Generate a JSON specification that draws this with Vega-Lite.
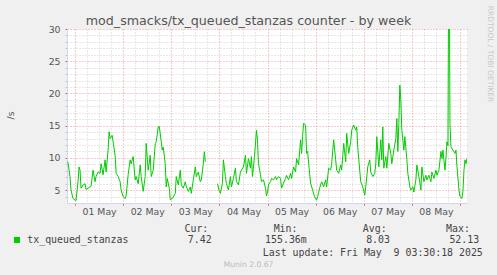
{
"$schema": "https://vega.github.io/schema/vega-lite/v6.json",
"width": 400,
"height": 174,
"autosize": "none",
"padding": {"left": 67, "top": 29, "right": 30, "bottom": 72},
"background": "#F0F0F0",
"config": {
  "view": {"fill": "#FFFFFF", "stroke": null},
  "axis": {"labelFont": "DejaVu Sans", "labelFontSize": 9.33, "labelColor": "#555555", "titleFont": "DejaVu Sans", "titleFontWeight": "normal", "gridDash": [1, 2], "domainColor": "#CFD6F8", "gridWidth": 1}
},
"data": {"values": [
{"t":"2025-04-30T20:00","v":9.4},{"t":"2025-04-30T20:30","v":9.3},{"t":"2025-04-30T21:30","v":7.1},{"t":"2025-04-30T22:00","v":5.0},{"t":"2025-04-30T23:00","v":3.7},
{"t":"2025-05-01T00:00","v":3.45},{"t":"2025-05-01T00:30","v":3.4},{"t":"2025-05-01T01:30","v":6.3},{"t":"2025-05-01T02:00","v":8.6},{"t":"2025-05-01T02:30","v":8.1},{"t":"2025-05-01T03:00","v":5.3},{"t":"2025-05-01T04:00","v":5.8},{"t":"2025-05-01T05:00","v":6.0},{"t":"2025-05-01T05:30","v":5.1},{"t":"2025-05-01T06:30","v":5.3},{"t":"2025-05-01T07:30","v":5.5},{"t":"2025-05-01T08:00","v":5.6},{"t":"2025-05-01T09:00","v":8.1},{"t":"2025-05-01T10:00","v":6.3},{"t":"2025-05-01T10:30","v":7.1},{"t":"2025-05-01T11:30","v":7.8},{"t":"2025-05-01T12:30","v":7.6},{"t":"2025-05-01T13:00","v":9.1},{"t":"2025-05-01T14:00","v":7.4},{"t":"2025-05-01T15:00","v":9.7},{"t":"2025-05-01T15:30","v":7.8},{"t":"2025-05-01T16:30","v":11.2},{"t":"2025-05-01T17:00","v":14.05},{"t":"2025-05-01T17:30","v":13.0},{"t":"2025-05-01T18:30","v":13.5},{"t":"2025-05-01T19:00","v":12.5},{"t":"2025-05-01T20:00","v":10.4},{"t":"2025-05-01T20:30","v":7.6},{"t":"2025-05-01T21:30","v":7.1},{"t":"2025-05-01T22:30","v":6.3},{"t":"2025-05-01T23:00","v":5.0},
{"t":"2025-05-02T00:00","v":4.0},{"t":"2025-05-02T01:00","v":3.7},{"t":"2025-05-02T01:30","v":4.1},{"t":"2025-05-02T02:30","v":7.4},{"t":"2025-05-02T03:30","v":9.7},{"t":"2025-05-02T04:00","v":9.1},{"t":"2025-05-02T05:00","v":10.2},{"t":"2025-05-02T06:00","v":6.6},{"t":"2025-05-02T06:30","v":7.1},{"t":"2025-05-02T07:30","v":6.0},{"t":"2025-05-02T08:30","v":8.9},{"t":"2025-05-02T09:00","v":7.1},{"t":"2025-05-02T10:00","v":4.8},{"t":"2025-05-02T11:00","v":7.1},{"t":"2025-05-02T11:30","v":12.25},{"t":"2025-05-02T12:30","v":8.1},{"t":"2025-05-02T13:30","v":10.4},{"t":"2025-05-02T14:00","v":7.1},{"t":"2025-05-02T15:00","v":8.1},{"t":"2025-05-02T16:00","v":12.2},{"t":"2025-05-02T16:30","v":12.5},{"t":"2025-05-02T17:30","v":14.8},{"t":"2025-05-02T18:00","v":14.9},{"t":"2025-05-02T18:30","v":13.8},{"t":"2025-05-02T19:30","v":11.2},{"t":"2025-05-02T20:00","v":11.7},{"t":"2025-05-02T21:00","v":9.1},{"t":"2025-05-02T21:30","v":5.5},{"t":"2025-05-02T22:00","v":6.8},{"t":"2025-05-02T23:00","v":5.3},{"t":"2025-05-02T23:30","v":3.5},
{"t":"2025-05-03T00:30","v":3.7},{"t":"2025-05-03T02:00","v":4.5},{"t":"2025-05-03T02:30","v":7.1},{"t":"2025-05-03T03:30","v":5.8},{"t":"2025-05-03T04:30","v":8.1},{"t":"2025-05-03T05:00","v":5.8},{"t":"2025-05-03T06:00","v":5.3},{"t":"2025-05-03T07:00","v":6.3},{"t":"2025-05-03T07:30","v":5.5},{"t":"2025-05-03T08:30","v":4.8},{"t":"2025-05-03T09:30","v":5.5},{"t":"2025-05-03T10:00","v":4.5},{"t":"2025-05-03T11:00","v":6.6},{"t":"2025-05-03T12:00","v":8.6},{"t":"2025-05-03T12:30","v":7.1},{"t":"2025-05-03T13:30","v":7.8},{"t":"2025-05-03T14:30","v":6.3},{"t":"2025-05-03T15:00","v":6.6},{"t":"2025-05-03T16:00","v":9.1},{"t":"2025-05-03T16:30","v":10.95},{"t":"2025-05-03T17:00","v":9.4},{"t":"2025-05-03T17:30","v":null},{"t":"2025-05-03T23:00","v":6.0},
{"t":"2025-05-04T00:00","v":4.8},{"t":"2025-05-04T00:30","v":4.5},{"t":"2025-05-04T01:30","v":6.0},{"t":"2025-05-04T02:00","v":9.7},{"t":"2025-05-04T03:00","v":7.1},{"t":"2025-05-04T03:30","v":6.0},{"t":"2025-05-04T04:30","v":5.0},{"t":"2025-05-04T05:30","v":7.1},{"t":"2025-05-04T06:00","v":5.5},{"t":"2025-05-04T07:00","v":6.8},{"t":"2025-05-04T08:00","v":8.4},{"t":"2025-05-04T08:30","v":6.3},{"t":"2025-05-04T09:30","v":5.8},{"t":"2025-05-04T10:30","v":7.8},{"t":"2025-05-04T11:00","v":8.1},{"t":"2025-05-04T12:00","v":8.6},{"t":"2025-05-04T13:00","v":10.4},{"t":"2025-05-04T13:30","v":7.6},{"t":"2025-05-04T14:30","v":9.9},{"t":"2025-05-04T15:30","v":8.4},{"t":"2025-05-04T16:00","v":10.2},{"t":"2025-05-04T16:30","v":7.1},{"t":"2025-05-04T17:30","v":10.2},{"t":"2025-05-04T18:30","v":14.3},{"t":"2025-05-04T19:00","v":12.8},{"t":"2025-05-04T19:30","v":9.1},{"t":"2025-05-04T20:30","v":7.4},{"t":"2025-05-04T21:00","v":6.3},{"t":"2025-05-04T22:00","v":6.6},{"t":"2025-05-04T23:00","v":5.3},{"t":"2025-05-04T23:30","v":4.1},
{"t":"2025-05-05T00:00","v":4.7},{"t":"2025-05-05T00:30","v":5.8},{"t":"2025-05-05T01:30","v":6.3},{"t":"2025-05-05T02:00","v":6.8},{"t":"2025-05-05T03:00","v":6.6},{"t":"2025-05-05T04:00","v":7.1},{"t":"2025-05-05T04:30","v":6.6},{"t":"2025-05-05T05:30","v":7.1},{"t":"2025-05-05T06:30","v":6.8},{"t":"2025-05-05T07:00","v":5.3},{"t":"2025-05-05T08:00","v":6.1},{"t":"2025-05-05T09:00","v":6.8},{"t":"2025-05-05T09:30","v":7.3},{"t":"2025-05-05T10:30","v":6.6},{"t":"2025-05-05T11:30","v":7.6},{"t":"2025-05-05T12:00","v":6.8},{"t":"2025-05-05T13:00","v":8.6},{"t":"2025-05-05T14:00","v":7.8},{"t":"2025-05-05T14:30","v":9.9},{"t":"2025-05-05T15:30","v":8.9},{"t":"2025-05-05T16:30","v":12.8},{"t":"2025-05-05T17:00","v":10.7},{"t":"2025-05-05T17:30","v":13.3},{"t":"2025-05-05T18:00","v":15.35},{"t":"2025-05-05T19:00","v":15.1},{"t":"2025-05-05T19:30","v":10.7},{"t":"2025-05-05T20:00","v":11.0},{"t":"2025-05-05T21:00","v":7.6},{"t":"2025-05-05T21:30","v":6.1},{"t":"2025-05-05T22:30","v":5.0},{"t":"2025-05-05T23:30","v":3.96},
{"t":"2025-05-06T00:30","v":3.45},{"t":"2025-05-06T01:00","v":4.0},{"t":"2025-05-06T02:00","v":5.3},{"t":"2025-05-06T02:30","v":5.8},{"t":"2025-05-06T03:00","v":6.3},{"t":"2025-05-06T04:00","v":5.5},{"t":"2025-05-06T05:00","v":6.6},{"t":"2025-05-06T05:30","v":5.5},{"t":"2025-05-06T06:30","v":8.4},{"t":"2025-05-06T07:30","v":8.1},{"t":"2025-05-06T08:00","v":9.1},{"t":"2025-05-06T09:00","v":12.8},{"t":"2025-05-06T10:00","v":9.7},{"t":"2025-05-06T10:30","v":8.1},{"t":"2025-05-06T11:30","v":7.6},{"t":"2025-05-06T12:30","v":8.9},{"t":"2025-05-06T13:00","v":8.1},{"t":"2025-05-06T14:00","v":12.25},{"t":"2025-05-06T15:00","v":9.4},{"t":"2025-05-06T15:30","v":13.8},{"t":"2025-05-06T16:30","v":10.7},{"t":"2025-05-06T17:30","v":12.5},{"t":"2025-05-06T18:00","v":14.3},{"t":"2025-05-06T19:00","v":15.1},{"t":"2025-05-06T20:00","v":14.3},{"t":"2025-05-06T20:30","v":14.8},{"t":"2025-05-06T21:00","v":11.7},{"t":"2025-05-06T22:00","v":8.1},{"t":"2025-05-06T22:30","v":6.3},{"t":"2025-05-06T23:30","v":5.5},
{"t":"2025-05-07T00:30","v":4.2},{"t":"2025-05-07T01:00","v":5.5},{"t":"2025-05-07T02:00","v":8.6},{"t":"2025-05-07T03:00","v":9.7},{"t":"2025-05-07T03:30","v":7.8},{"t":"2025-05-07T04:30","v":7.1},{"t":"2025-05-07T05:30","v":7.6},{"t":"2025-05-07T06:00","v":9.1},{"t":"2025-05-07T06:30","v":13.3},{"t":"2025-05-07T07:30","v":8.6},{"t":"2025-05-07T08:30","v":12.8},{"t":"2025-05-07T09:00","v":9.7},{"t":"2025-05-07T09:30","v":14.8},{"t":"2025-05-07T10:00","v":8.4},{"t":"2025-05-07T11:00","v":10.2},{"t":"2025-05-07T11:30","v":8.4},{"t":"2025-05-07T12:30","v":12.25},{"t":"2025-05-07T13:30","v":10.7},{"t":"2025-05-07T14:00","v":9.1},{"t":"2025-05-07T15:00","v":11.2},{"t":"2025-05-07T16:00","v":13.0},{"t":"2025-05-07T16:30","v":16.1},{"t":"2025-05-07T17:00","v":11.0},{"t":"2025-05-07T17:30","v":15.35},{"t":"2025-05-07T18:00","v":21.3},{"t":"2025-05-07T18:30","v":19.0},{"t":"2025-05-07T19:00","v":14.3},{"t":"2025-05-07T20:00","v":11.2},{"t":"2025-05-07T20:30","v":13.3},{"t":"2025-05-07T21:30","v":9.7},{"t":"2025-05-07T22:00","v":7.6},{"t":"2025-05-07T23:00","v":5.5},{"t":"2025-05-07T23:30","v":5.0},
{"t":"2025-05-08T00:30","v":5.5},{"t":"2025-05-08T01:00","v":4.7},{"t":"2025-05-08T02:00","v":6.6},{"t":"2025-05-08T02:30","v":8.9},{"t":"2025-05-08T03:30","v":7.1},{"t":"2025-05-08T04:30","v":5.0},{"t":"2025-05-08T05:00","v":8.6},{"t":"2025-05-08T06:00","v":6.3},{"t":"2025-05-08T07:00","v":7.3},{"t":"2025-05-08T07:30","v":6.6},{"t":"2025-05-08T08:30","v":7.3},{"t":"2025-05-08T09:30","v":6.3},{"t":"2025-05-08T10:00","v":7.8},{"t":"2025-05-08T11:00","v":6.8},{"t":"2025-05-08T12:00","v":8.1},{"t":"2025-05-08T12:30","v":7.3},{"t":"2025-05-08T13:30","v":8.1},{"t":"2025-05-08T14:30","v":11.0},{"t":"2025-05-08T15:00","v":9.9},{"t":"2025-05-08T15:30","v":11.2},{"t":"2025-05-08T16:30","v":8.1},{"t":"2025-05-08T17:00","v":9.9},{"t":"2025-05-08T17:30","v":12.5},{"t":"2025-05-08T18:00","v":11.9},{"t":"2025-05-08T18:30","v":52.13},{"t":"2025-05-08T19:00","v":15.35},{"t":"2025-05-08T19:30","v":11.7},{"t":"2025-05-08T20:30","v":11.2},{"t":"2025-05-08T21:30","v":10.7},{"t":"2025-05-08T22:00","v":11.2},{"t":"2025-05-08T22:30","v":8.6},{"t":"2025-05-08T23:30","v":5.0},
{"t":"2025-05-09T00:00","v":4.0},{"t":"2025-05-09T01:00","v":3.7},{"t":"2025-05-09T01:30","v":5.0},{"t":"2025-05-09T02:00","v":8.1},{"t":"2025-05-09T02:30","v":9.7},{"t":"2025-05-09T03:00","v":9.1},{"t":"2025-05-09T03:30","v":9.9}
]},
"layer": [
  {
    "mark": {"type": "line", "color": "#00CC00", "strokeWidth": 1, "clip": true, "invalid": "break-paths-show-domains"},
    "encoding": {
      "x": {"field": "t", "type": "temporal",
        "scale": {"domain": [{"year": 2025, "month": 4, "date": 30, "hours": 20}, {"year": 2025, "month": 5, "date": 9, "hours": 3, "minutes": 30}]},
        "axis": {"orient": "bottom", "grid": true, "gridColor": "#8C8C8C", "gridOpacity": 0.4, "labels": false, "ticks": false, "domain": false,
          "values": [
            {"year":2025,"month":5,"date":1,"hours":6},{"year":2025,"month":5,"date":1,"hours":12},{"year":2025,"month":5,"date":1,"hours":18},
            {"year":2025,"month":5,"date":2,"hours":6},{"year":2025,"month":5,"date":2,"hours":12},{"year":2025,"month":5,"date":2,"hours":18},
            {"year":2025,"month":5,"date":3,"hours":6},{"year":2025,"month":5,"date":3,"hours":12},{"year":2025,"month":5,"date":3,"hours":18},
            {"year":2025,"month":5,"date":4,"hours":6},{"year":2025,"month":5,"date":4,"hours":12},{"year":2025,"month":5,"date":4,"hours":18},
            {"year":2025,"month":5,"date":5,"hours":6},{"year":2025,"month":5,"date":5,"hours":12},{"year":2025,"month":5,"date":5,"hours":18},
            {"year":2025,"month":5,"date":6,"hours":6},{"year":2025,"month":5,"date":6,"hours":12},{"year":2025,"month":5,"date":6,"hours":18},
            {"year":2025,"month":5,"date":7,"hours":6},{"year":2025,"month":5,"date":7,"hours":12},{"year":2025,"month":5,"date":7,"hours":18},
            {"year":2025,"month":5,"date":8,"hours":6},{"year":2025,"month":5,"date":8,"hours":12},{"year":2025,"month":5,"date":8,"hours":18}
          ],
          "title": "Last update: Fri May\u00a0\u00a09 03:30:18 2025", "titleFont": "DejaVu Sans Mono", "titleFontSize": 9.9, "titleColor": "#444444",
          "titleX": 415.3, "titleY": 52, "titleAlign": "right", "titleBaseline": "alphabetic"}},
      "y": {"field": "v", "type": "quantitative",
        "scale": {"domain": [3, 30], "nice": false, "zero": false},
        "axis": {"orient": "left", "grid": true, "gridColor": "#8C8C8C", "gridOpacity": 0.4, "labels": false, "ticks": true, "tickSize": 2, "tickColor": "#C8C8C8", "domain": false,
          "values": [4,6,7,8,9,11,12,13,14,16,17,18,19,21,22,23,24,26,27,28,29],
          "title": "/s", "titleFontSize": 9.33, "titleColor": "#555555", "titleAngle": -90, "titleX": -57, "titleY": 86, "titleAlign": "center", "titleBaseline": "middle"}},
      "color": {"datum": "tx_queued_stanzas", "scale": {"range": ["#00CC00"]},
        "legend": {"orient": "none", "legendX": -55, "legendY": 206, "padding": 0, "title": null,
          "labelFont": "DejaVu Sans Mono", "labelFontSize": 9.9, "labelColor": "#444444", "labelLimit": 600, "labelOffset": 5.4,
          "labelExpr": "'tx_queued_stanzas\u00a0\u00a0\u00a0\u00a0\u00a0\u00a0\u00a0\u00a0\u00a0\u00a07.42\u00a0\u00a0\u00a0\u00a0\u00a0\u00a0\u00a0\u00a0\u00a0155.36m\u00a0\u00a0\u00a0\u00a0\u00a0\u00a0\u00a0\u00a0\u00a0\u00a08.03\u00a0\u00a0\u00a0\u00a0\u00a0\u00a0\u00a0\u00a0\u00a0\u00a052.13'",
          "symbolType": "square", "symbolSize": 36, "symbolStrokeWidth": 0, "symbolFillColor": "#00CC00",
          "encode": {"symbols": {"update": {"fill": {"value": "#00CC00"}, "stroke": {"value": "#00CC00"}, "strokeWidth": {"value": 0}, "opacity": {"value": 1}}}}}}
    }
  },
  {
    "mark": {"type": "line", "strokeOpacity": 0, "invalid": "break-paths-show-domains"},
    "encoding": {
      "x": {"field": "t", "type": "temporal",
        "scale": {"domain": [{"year": 2025, "month": 4, "date": 30, "hours": 20}, {"year": 2025, "month": 5, "date": 9, "hours": 3, "minutes": 30}]},
        "axis": {"orient": "bottom", "grid": true, "gridColor": "#E05050", "gridOpacity": 0.6, "labels": false, "ticks": true, "tickSize": 2, "tickColor": "#E05050", "domain": true, "domainColor": "#CFD6F8",
          "values": [
            {"year":2025,"month":5,"date":1},{"year":2025,"month":5,"date":2},{"year":2025,"month":5,"date":3},{"year":2025,"month":5,"date":4},
            {"year":2025,"month":5,"date":5},{"year":2025,"month":5,"date":6},{"year":2025,"month":5,"date":7},{"year":2025,"month":5,"date":8},{"year":2025,"month":5,"date":9}
          ],
          "title": "Munin 2.0.67", "titleFont": "DejaVu Sans", "titleFontSize": 7.6, "titleColor": "#BBBBBB", "titleX": 181, "titleY": 63.7, "titleAlign": "center", "titleBaseline": "alphabetic"}},
      "y": {"field": "v", "type": "quantitative",
        "scale": {"domain": [3, 30], "nice": false, "zero": false},
        "axis": {"orient": "left", "grid": true, "gridColor": "#E05050", "gridOpacity": 0.6, "labels": true, "labelPadding": 5, "ticks": true, "tickSize": 2, "tickColor": "#E05050", "domain": true, "domainColor": "#CFD6F8",
          "values": [5, 10, 15, 20, 25, 30], "title": null}}
    }
  },
  {
    "mark": {"type": "line", "strokeOpacity": 0, "invalid": "break-paths-show-domains"},
    "encoding": {
      "x": {"field": "t", "type": "temporal",
        "scale": {"domain": [{"year": 2025, "month": 4, "date": 30, "hours": 20}, {"year": 2025, "month": 5, "date": 9, "hours": 3, "minutes": 30}]},
        "axis": {"orient": "bottom", "grid": false, "ticks": false, "domain": false, "format": "%d %b", "labelPadding": 4, "labelFlush": false, "labelOverlap": false,
          "values": [
            {"year":2025,"month":5,"date":1,"hours":12},{"year":2025,"month":5,"date":2,"hours":12},{"year":2025,"month":5,"date":3,"hours":12},{"year":2025,"month":5,"date":4,"hours":12},
            {"year":2025,"month":5,"date":5,"hours":12},{"year":2025,"month":5,"date":6,"hours":12},{"year":2025,"month":5,"date":7,"hours":12},{"year":2025,"month":5,"date":8,"hours":12}
          ],
          "title": "Cur:\u00a0\u00a0\u00a0\u00a0\u00a0\u00a0\u00a0\u00a0\u00a0\u00a0\u00a0Min:\u00a0\u00a0\u00a0\u00a0\u00a0\u00a0\u00a0\u00a0\u00a0\u00a0\u00a0Avg:\u00a0\u00a0\u00a0\u00a0\u00a0\u00a0\u00a0\u00a0\u00a0\u00a0Max:",
          "titleFont": "DejaVu Sans Mono", "titleFontSize": 9.9, "titleColor": "#444444", "titleX": 117, "titleY": 28.7, "titleAlign": "left", "titleBaseline": "alphabetic"}},
      "y": {"field": "v", "type": "quantitative",
        "scale": {"domain": [3, 30], "nice": false, "zero": false},
        "axis": {"orient": "right", "grid": false, "labels": false, "ticks": false, "domain": false,
          "title": "RRDTOOL / TOBI OETIKER", "titleFont": "DejaVu Sans", "titleFontSize": 7.5, "titleColor": "#C8C8C8", "titleAngle": 90, "titleX": 22, "titleY": 24.5, "titleAlign": "center", "titleBaseline": "middle"}}
    }
  },
  {
    "mark": {"type": "line", "strokeOpacity": 0, "invalid": "break-paths-show-domains"},
    "encoding": {
      "x": {"field": "t", "type": "temporal",
        "scale": {"domain": [{"year": 2025, "month": 4, "date": 30, "hours": 20}, {"year": 2025, "month": 5, "date": 9, "hours": 3, "minutes": 30}]},
        "axis": {"orient": "top", "grid": false, "labels": false, "ticks": false, "domain": false,
          "title": "mod_smacks/tx_queued_stanzas counter - by week", "titleFont": "DejaVu Sans", "titleFontSize": 12.67, "titleColor": "#555555",
          "titleX": 181, "titleY": -5, "titleAlign": "center", "titleBaseline": "alphabetic"}},
      "y": {"field": "v", "type": "quantitative",
        "scale": {"domain": [3, 30], "nice": false, "zero": false}, "axis": null}
    }
  }
],
"resolve": {"axis": {"x": "independent", "y": "independent"}}
}
